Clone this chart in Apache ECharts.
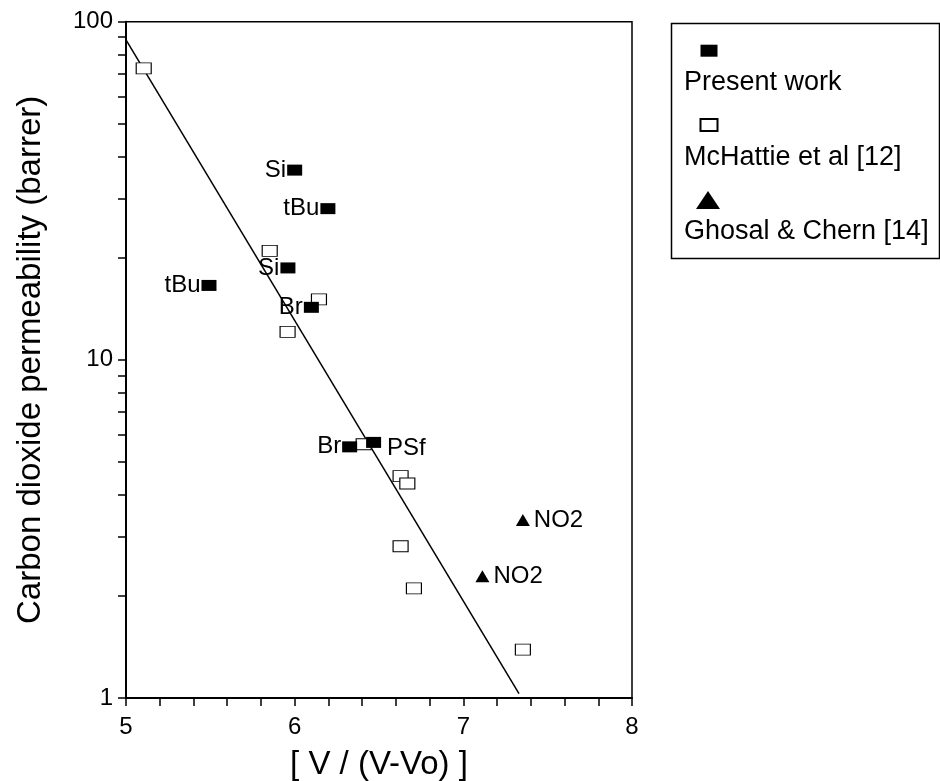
<!DOCTYPE html>
<html>
<head>
<meta charset="utf-8">
<style>html,body{margin:0;padding:0;background:#fff}#c{width:940px;height:781px}</style>
<script src="https://cdn.jsdelivr.net/npm/echarts@6/dist/echarts.min.js"></script>
</head>
<body>
<div id="c"></div>
<script>
// Present work (filled squares)
const presentX = [6.00, 6.197, 5.96, 5.492, 6.099, 6.326, 6.468];
const presentY = [36.4, 28.0, 18.7, 16.6, 14.3, 5.53, 5.70];
const presentLabels = ['Si', 'tBu', 'Si', 'tBu', 'Br', 'Br', 'PSf'];
// McHattie et al [12] (open squares)
const mchattieX = [5.105, 5.852, 6.144, 5.958, 6.409, 6.628, 6.668, 6.628, 6.707, 7.353];
const mchattieY = [72.8, 21.0, 15.1, 12.1, 5.63, 4.53, 4.31, 2.81, 2.11, 1.39];
// Ghosal & Chern [14] (triangles)
const ghosalX = [7.353, 7.113];
const ghosalY = [3.36, 2.29];
const ghosalLabels = ['NO2', 'NO2'];
// Fitted line end points
const fitX = [5.0, 7.33];
const fitY = [88.3, 1.03];
// Axis ticks
const yLabelValues = [1, 10, 100];
const yTickValues = [1, 2, 3, 4, 5, 6, 7, 8, 9, 10, 20, 30, 40, 50, 60, 70, 80, 90, 100];
const seriesNames = ['Present work', 'McHattie et al [12]', 'Ghosal & Chern [14]'];

const FONT = 'Liberation Sans, Arial, Helvetica, sans-serif';
const pairs = (xs, ys) => xs.map((x, i) => [x, ys[i]]);
const labelOverrides = { PSf: { position: 'right', distance: 6, offset: [0, 6] } };

const chart = echarts.init(document.getElementById('c'));
chart.setOption({
  animation: false,
  backgroundColor: '#fff',
  grid: { left: 126, top: 21.7, right: 308, bottom: 83, outerBoundsMode: 'none', containLabel: false,
    show: true, borderColor: '#000', borderWidth: 1.5, backgroundColor: 'transparent' },
  xAxis: {
    type: 'value', min: 5, max: 8, interval: 1,
    name: '[ V / (V-Vo) ]', nameLocation: 'middle', nameGap: 50,
    nameTextStyle: { fontSize: 33, fontFamily: FONT, color: '#000' },
    axisLine: { show: true, lineStyle: { color: '#000', width: 2 } },
    axisTick: { show: true, length: 8, lineStyle: { color: '#000', width: 1.5 } },
    minorTick: { show: true, splitNumber: 5, length: 8, lineStyle: { color: '#000', width: 1.5 } },
    axisLabel: { fontSize: 24, fontFamily: FONT, color: '#000', margin: 17 },
    splitLine: { show: false }, minorSplitLine: { show: false }
  },
  yAxis: {
    type: 'log', logBase: 10, min: 1, max: 100,
    name: 'Carbon dioxide permeability (barrer)', nameLocation: 'middle', nameGap: 79,
    nameTextStyle: { fontSize: 33, fontFamily: FONT, color: '#000' },
    axisLine: { show: true, lineStyle: { color: '#000', width: 2 } },
    axisTick: { show: true, length: 8, customValues: yTickValues, lineStyle: { color: '#000', width: 1.5 } },
    axisLabel: { fontSize: 24, fontFamily: FONT, color: '#000', margin: 13, customValues: yLabelValues },
    splitLine: { show: false }
  },
  legend: [
    {
      data: seriesNames.slice(0, 2), orient: 'vertical', left: 699.5, top: 44.7, padding: 0,
      itemWidth: 17, itemHeight: 12, itemGap: 61.3, formatter: () => '',
      textStyle: { fontSize: 8 }, selectedMode: false
    },
    {
      data: seriesNames.slice(2), orient: 'vertical', left: 696, top: 191, padding: 0,
      itemWidth: 24, itemHeight: 18, formatter: () => '',
      textStyle: { fontSize: 8 }, selectedMode: false
    },
    {
      data: seriesNames, orient: 'vertical', left: 678, top: 68, padding: 0,
      itemWidth: 0, itemHeight: 0, itemGap: 44.5, itemStyle: { opacity: 0 },
      textStyle: { fontSize: 27, fontFamily: FONT, color: '#000', lineHeight: 30 }, selectedMode: false
    }
  ],
  graphic: [{
    type: 'rect', left: 669, top: 21, shape: { width: 268, height: 235 },
    style: { fill: 'none', stroke: '#000', lineWidth: 1.5 }, silent: true
  }],
  series: [
    {
      type: 'line', data: pairs(fitX, fitY), symbol: 'none', z: 1,
      lineStyle: { color: '#000', width: 1.5 }, silent: true
    },
    {
      name: seriesNames[1], type: 'scatter', symbol: 'rect', symbolSize: [15, 11], z: 2,
      itemStyle: { color: '#fff', borderColor: '#000', borderWidth: 1, opacity: 1 },
      data: pairs(mchattieX, mchattieY)
    },
    {
      name: seriesNames[2], type: 'scatter', symbol: 'triangle', symbolSize: [14, 12], z: 3,
      itemStyle: { color: '#000', opacity: 1 },
      label: { show: true, position: 'right', distance: 4, fontSize: 24, fontFamily: FONT, color: '#000',
        formatter: p => ghosalLabels[p.dataIndex] },
      data: pairs(ghosalX, ghosalY)
    },
    {
      name: seriesNames[0], type: 'scatter', symbol: 'rect', symbolSize: [15, 11], z: 4,
      itemStyle: { color: '#000', opacity: 1 },
      label: { show: true, position: 'left', distance: 1, fontSize: 24, fontFamily: FONT, color: '#000',
        formatter: p => presentLabels[p.dataIndex] },
      data: presentX.map((x, i) => {
        const o = { value: [x, presentY[i]] };
        if (labelOverrides[presentLabels[i]]) o.label = labelOverrides[presentLabels[i]];
        return o;
      })
    }
  ]
});
</script>
</body>
</html>
